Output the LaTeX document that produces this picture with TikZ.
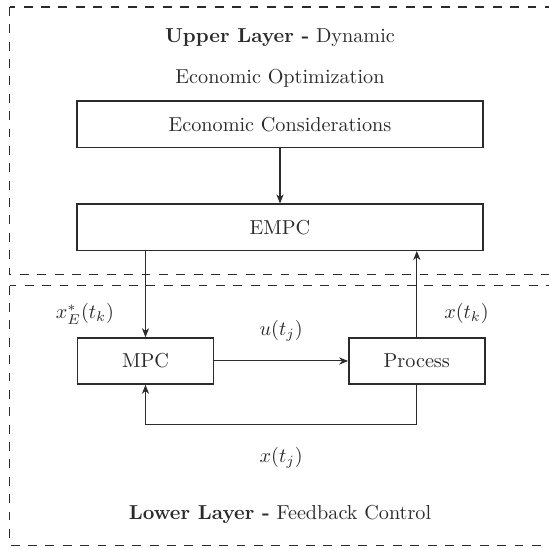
\documentclass[tikz,border=0pt]{standalone}
\usepackage{amsmath}
\usetikzlibrary{arrows.meta,positioning}
\definecolor{ink}{HTML}{2B2B2B}
\tikzset{
  block/.style={rectangle, draw=ink, fill=white, line width=0.7pt, text=ink,
                minimum height=22.9pt, inner sep=3pt},
  wideblock/.style={block, minimum width=201pt},
  smallblock/.style={block, minimum width=67.3pt},
  layer/.style={draw=ink, line width=0.6pt, dash pattern=on 4.4pt off 4.2pt},
  ttl/.style={align=center, text=ink},
  sig/.style={text=ink},
  flow/.style={-{Stealth[length=4.5pt, width=3.6pt]}, draw=ink, line width=0.5pt}
}

\begin{document}
\begin{tikzpicture}[x=0.495pt, y=-0.495pt]
  \clip (0,0) rectangle (549,548);
  % the two layers
  \draw[layer] (9.7,7) rectangle (570,274.7);
  \draw[layer] (9.7,285.7) rectangle (570,545.3);
  \node[ttl, anchor=north] (uptitle) at (280,21.4)
       {\textbf{Upper Layer -} Dynamic\\[8.5pt]Economic Optimization};
  \node[ttl, anchor=base] (lowtitle) at (280,520) {\textbf{Lower Layer -} Feedback Control};
  % blocks
  \node[wideblock] (econ) at (280,124.2) {Economic Considerations};
  \node[wideblock, below=27.4pt of econ] (empc) {EMPC};
  \node[smallblock] (mpc) at (145.5,361) {MPC};
  \node[smallblock, right=66.3pt of mpc] (plant) {Process};
  % signals
  \draw[flow] (econ) -- (empc);
  \draw[flow] (empc.south -| mpc.north) -- node[sig, pos=0.73, left=12pt] {$x_E^*(t_k)$} (mpc.north);
  \draw[flow] (mpc) -- node[sig, above=6pt] {$u(t_j)$} (plant);
  \draw[flow] (plant.north) -- node[sig, pos=0.28, right=10pt] {$x(t_k)$} (plant.north |- empc.south);
  \draw[flow] (plant.south) -- ++(0,39.7) -| node[sig, pos=0.25, below=7.6pt] {$x(t_j)$} (mpc.south);
\end{tikzpicture}
\end{document}
